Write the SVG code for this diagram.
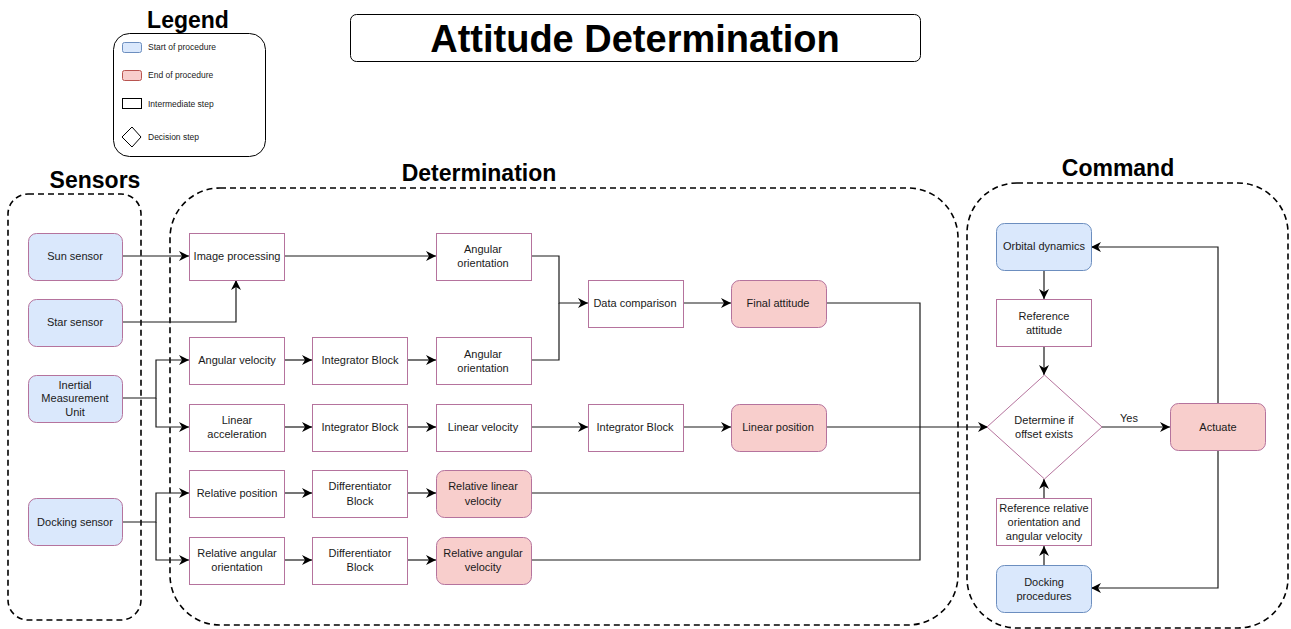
<svg xmlns="http://www.w3.org/2000/svg" width="1291" height="629" viewBox="0 0 1291 629">
  <style>
    text { font-family: "Liberation Sans", Arial, sans-serif; fill: #1a1a1a; }
    .lbl { font-size: 11px; text-anchor: middle; }
    .lgd { font-size: 8.5px; }
    .h { font-weight: bold; font-size: 23px; text-anchor: middle; fill: #000; }
    .step { fill: #ffffff; stroke: #b5739d; stroke-width: 1; }
    .start { fill: #dae8fc; stroke: #b5739d; stroke-width: 1; }
    .startb { fill: #dae8fc; stroke: #6c8ebf; stroke-width: 1; }
    .end { fill: #f8cecc; stroke: #b5739d; stroke-width: 1; }
    .grp { fill: none; stroke: #000; stroke-width: 1.6; stroke-dasharray: 6 4; }
    .edge { fill: none; stroke: #1a1a1a; stroke-width: 1.2; }
    .arr { marker-end: url(#ah); }
  </style>
  <defs>
    <marker id="ah" viewBox="0 0 10 10" refX="10" refY="5" markerWidth="10" markerHeight="10" markerUnits="userSpaceOnUse" orient="auto">
      <path d="M0,0 L10,5 L0,10 L3,5 Z" fill="#000"/>
    </marker>
  </defs>

  <rect width="1291" height="629" fill="#ffffff"/>

  <!-- title -->
  <g id="title">
    <rect x="350.5" y="14.5" width="570" height="47" rx="6" fill="#fff" stroke="#000" stroke-width="1"/>
    <text x="635" y="52" style="font-size:38px;font-weight:bold;text-anchor:middle;fill:#000">Attitude Determination</text>
  </g>

  <!-- legend -->
  <g id="legend">
    <text class="h" x="188" y="28">Legend</text>
    <rect x="113.5" y="33.5" width="152" height="123" rx="16" fill="#fff" stroke="#000" stroke-width="1"/>
    <rect x="122.5" y="42.5" width="19" height="10" rx="2" class="startb"/>
    <text class="lgd" x="148" y="50">Start of procedure</text>
    <rect x="122.5" y="70.5" width="19" height="10" rx="2" fill="#f8cecc" stroke="#b85450"/>
    <text class="lgd" x="148" y="78">End of procedure</text>
    <rect x="122.5" y="98.5" width="19" height="10" fill="#fff" stroke="#000"/>
    <text class="lgd" x="148" y="107">Intermediate step</text>
    <path d="M132,127 L141,137 L132,147 L122,137 Z" fill="#fff" stroke="#000"/>
    <text class="lgd" x="148" y="140">Decision step</text>
  </g>

  <!-- groups -->
  <g id="group-sensors">
    <text class="h" x="95" y="188">Sensors</text>
    <rect x="8" y="194" width="133" height="426" rx="20" class="grp"/>
  </g>
  <g id="group-determination">
    <text class="h" x="479" y="181">Determination</text>
    <rect x="170" y="188" width="788" height="437" rx="50" class="grp"/>
  </g>
  <g id="group-command">
    <text class="h" x="1118" y="176">Command</text>
    <rect x="967" y="183" width="321" height="445" rx="50" class="grp"/>
  </g>

  <!-- connectors -->
  <g id="connectors">
    <path class="edge arr" d="M122,256 H189"/>
    <path class="edge arr" d="M122,322 H236 V280"/>
    <path class="edge arr" d="M284,256 H436"/>
    <path class="edge arr" d="M122,398 H156 V360 H189"/>
    <path class="edge arr" d="M156,398 V427 H189"/>
    <path class="edge arr" d="M122,522 H156 V493 H189"/>
    <path class="edge arr" d="M156,522 V560 H189"/>
    <path class="edge arr" d="M284,360 H312"/>
    <path class="edge arr" d="M407,360 H436"/>
    <path class="edge arr" d="M284,427 H312"/>
    <path class="edge arr" d="M407,427 H436"/>
    <path class="edge arr" d="M284,493 H312"/>
    <path class="edge arr" d="M407,493 H436"/>
    <path class="edge arr" d="M284,560 H312"/>
    <path class="edge arr" d="M407,560 H436"/>
    <path class="edge arr" d="M531,256 H559 V303 H588"/>
    <path class="edge" d="M531,360 H559 V303"/>
    <path class="edge arr" d="M683,303 H731"/>
    <path class="edge arr" d="M531,427 H588"/>
    <path class="edge arr" d="M683,427 H731"/>
    <path class="edge arr" d="M826,427 H988"/>
    <path class="edge" d="M826,303 H920 V560 H531"/>
    <path class="edge" d="M531,493 H920"/>
    <path class="edge arr" d="M1044,270 V299"/>
    <path class="edge arr" d="M1044,346 V375"/>
    <path class="edge arr" d="M1044,498 V479"/>
    <path class="edge arr" d="M1044,565 V546"/>
    <path class="edge arr" d="M1102,427 H1170"/>
    <text class="lbl" x="1129" y="422">Yes</text>
    <path class="edge arr" d="M1218,404 V247 H1091"/>
    <path class="edge arr" d="M1218,451 V588 H1091"/>
  </g>

  <!-- sensors -->
  <g id="sun-sensor"><rect x="28.5" y="233.5" width="94" height="47" rx="8" class="start"/><text class="lbl" x="75" y="260">Sun sensor</text></g>
  <g id="star-sensor"><rect x="28.5" y="299.5" width="94" height="47" rx="8" class="start"/><text class="lbl" x="75" y="326">Star sensor</text></g>
  <g id="imu"><rect x="28.5" y="375.5" width="94" height="47" rx="8" class="start"/><text class="lbl" x="75" y="389">Inertial</text><text class="lbl" x="75" y="402">Measurement</text><text class="lbl" x="75" y="416">Unit</text></g>
  <g id="docking-sensor"><rect x="28.5" y="498.5" width="94" height="47" rx="8" class="start"/><text class="lbl" x="75" y="526">Docking sensor</text></g>

  <!-- determination column 1 -->
  <g id="image-processing"><rect x="189.5" y="233.5" width="95" height="47" class="step"/><text class="lbl" x="237" y="260">Image processing</text></g>
  <g id="angular-velocity"><rect x="189.5" y="337.5" width="95" height="47" class="step"/><text class="lbl" x="237" y="364">Angular velocity</text></g>
  <g id="linear-acceleration"><rect x="189.5" y="404.5" width="95" height="47" class="step"/><text class="lbl" x="237" y="424">Linear</text><text class="lbl" x="237" y="438">acceleration</text></g>
  <g id="relative-position"><rect x="189.5" y="470.5" width="95" height="47" class="step"/><text class="lbl" x="237" y="497">Relative position</text></g>
  <g id="relative-angular-orientation"><rect x="189.5" y="537.5" width="95" height="47" class="step"/><text class="lbl" x="237" y="557">Relative angular</text><text class="lbl" x="237" y="571">orientation</text></g>

  <!-- column 2 -->
  <g id="integrator-1"><rect x="312.5" y="337.5" width="95" height="47" class="step"/><text class="lbl" x="360" y="364">Integrator Block</text></g>
  <g id="integrator-2"><rect x="312.5" y="404.5" width="95" height="47" class="step"/><text class="lbl" x="360" y="431">Integrator Block</text></g>
  <g id="differentiator-1"><rect x="312.5" y="470.5" width="95" height="47" class="step"/><text class="lbl" x="360" y="490">Differentiator</text><text class="lbl" x="360" y="505">Block</text></g>
  <g id="differentiator-2"><rect x="312.5" y="537.5" width="95" height="47" class="step"/><text class="lbl" x="360" y="557">Differentiator</text><text class="lbl" x="360" y="571">Block</text></g>

  <!-- column 3 -->
  <g id="angular-orientation-1"><rect x="436.5" y="233.5" width="95" height="47" class="step"/><text class="lbl" x="483" y="253">Angular</text><text class="lbl" x="483" y="267">orientation</text></g>
  <g id="angular-orientation-2"><rect x="436.5" y="337.5" width="95" height="47" class="step"/><text class="lbl" x="483" y="358">Angular</text><text class="lbl" x="483" y="372">orientation</text></g>
  <g id="linear-velocity"><rect x="436.5" y="404.5" width="95" height="47" class="step"/><text class="lbl" x="483" y="431">Linear velocity</text></g>
  <g id="relative-linear-velocity"><rect x="436.5" y="470.5" width="95" height="47" rx="8" class="end"/><text class="lbl" x="483" y="490">Relative linear</text><text class="lbl" x="483" y="505">velocity</text></g>
  <g id="relative-angular-velocity"><rect x="436.5" y="537.5" width="95" height="47" rx="8" class="end"/><text class="lbl" x="483" y="557">Relative angular</text><text class="lbl" x="483" y="571">velocity</text></g>

  <!-- column 4 / 5 -->
  <g id="data-comparison"><rect x="588.5" y="280.5" width="95" height="47" class="step"/><text class="lbl" x="635" y="307">Data comparison</text></g>
  <g id="integrator-3"><rect x="588.5" y="404.5" width="95" height="47" class="step"/><text class="lbl" x="635" y="431">Integrator Block</text></g>
  <g id="final-attitude"><rect x="731.5" y="280.5" width="95" height="47" rx="8" class="end"/><text class="lbl" x="778" y="307">Final attitude</text></g>
  <g id="linear-position"><rect x="731.5" y="404.5" width="95" height="47" rx="8" class="end"/><text class="lbl" x="778" y="431">Linear position</text></g>

  <!-- command -->
  <g id="orbital-dynamics"><rect x="996.5" y="223.5" width="95" height="47" rx="8" class="startb"/><text class="lbl" x="1044" y="250">Orbital dynamics</text></g>
  <g id="reference-attitude"><rect x="996.5" y="299.5" width="95" height="47" class="step"/><text class="lbl" x="1044" y="320">Reference</text><text class="lbl" x="1044" y="334">attitude</text></g>
  <g id="offset-decision"><path d="M1044.5,375 L1102,427 L1044.5,479 L987,427 Z" class="step"/><text class="lbl" x="1044" y="424">Determine if</text><text class="lbl" x="1044" y="438">offset exists</text></g>
  <g id="actuate"><rect x="1170.5" y="403.5" width="95" height="47" rx="8" class="end"/><text class="lbl" x="1218" y="431">Actuate</text></g>
  <g id="reference-relative"><rect x="996.5" y="498.5" width="95" height="47" class="step"/><text class="lbl" x="1044" y="512">Reference relative</text><text class="lbl" x="1044" y="526">orientation and</text><text class="lbl" x="1044" y="540">angular velocity</text></g>
  <g id="docking-procedures"><rect x="996.5" y="565.5" width="95" height="47" rx="8" class="startb"/><text class="lbl" x="1044" y="586">Docking</text><text class="lbl" x="1044" y="600">procedures</text></g>
</svg>
